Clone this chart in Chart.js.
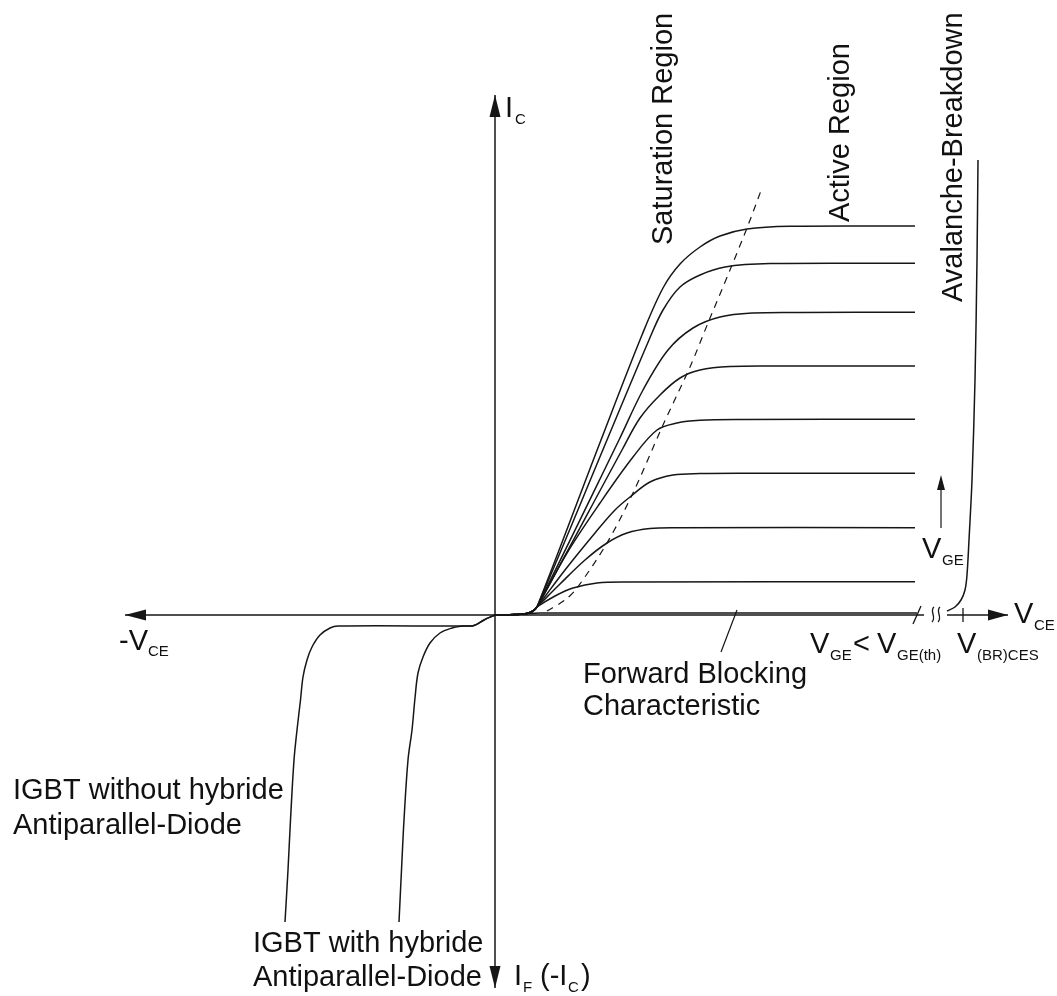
<!DOCTYPE html>
<html>
<head>
<meta charset="utf-8">
<title>IGBT output characteristic</title>
<script src="https://cdn.jsdelivr.net/npm/chart.js@4.4.1/dist/chart.umd.min.js"></script>
<style>
  html, body { margin: 0; padding: 0; background: #fff; }
  #wrap { width: 1057px; height: 996px; }
</style>
</head>
<body>
<div id="wrap"><canvas id="igbt" width="1057" height="996"></canvas></div>
<script>
// Schematic units: V_CE and I_C in arbitrary units, origin where the axes cross

// Output curves for rising V_GE (lowest index = highest V_GE)
const vce1 = [0, 2.0, 3.2, 3.8, 4.2, 10.6, 14.7, 16.8, 18.5, 20.5, 22.5, 25.2, 29.5, 42.0];
const ic1  = [0, 0.04, 0.14, 0.4, 0.8, 17.5, 28.0, 32.7, 35.1, 36.8, 37.9, 38.6, 38.87, 38.9];

const vce2 = [0, 2.0, 3.2, 3.8, 4.2, 11.2, 15.4, 16.8, 18.5, 20.5, 23.0, 27.5, 42.0];
const ic2  = [0, 0.04, 0.14, 0.4, 0.8, 17.5, 27.5, 30.5, 32.8, 34.0, 34.8, 35.14, 35.17];

const vce3 = [0, 2.0, 3.2, 3.8, 4.2, 12.4, 14.8, 17.3, 19.8, 22.5, 25.8, 30.5, 42.0];
const ic3  = [0, 0.04, 0.14, 0.4, 0.8, 17.5, 22.5, 26.5, 28.7, 29.8, 30.2, 30.26, 30.27];

const vce4 = [0, 2.0, 3.2, 3.8, 4.2, 12.7, 14.5, 16.5, 18.5, 20.5, 23.5, 28.5, 42.0];
const ic4  = [0, 0.04, 0.14, 0.4, 0.8, 16.5, 19.7, 22.0, 23.7, 24.5, 24.85, 24.9, 24.9];

const vce5 = [0, 2.0, 3.2, 3.8, 4.2, 7.2, 10.5, 13.8, 16.2, 18.2, 20.5, 24.5, 42.0];
const ic5  = [0, 0.04, 0.14, 0.4, 0.8, 6.2, 11.2, 15.8, 18.5, 19.2, 19.47, 19.55, 19.57];

const vce6 = [0, 2.0, 3.2, 3.8, 4.2, 7.0, 10.0, 12.0, 13.5, 15.5, 17.8, 20.5, 25.5, 42.0];
const ic6  = [0, 0.04, 0.14, 0.4, 0.8, 4.5, 8.2, 10.5, 11.8, 13.3, 14.0, 14.14, 14.17, 14.17];

const vce7 = [0, 2.0, 3.2, 3.8, 4.2, 6.5, 9.0, 11.2, 13.2, 15.5, 18.2, 42.0];
const ic7  = [0, 0.04, 0.14, 0.4, 0.8, 3.1, 5.5, 7.2, 8.2, 8.65, 8.73, 8.73];

const vce8 = [0, 2.0, 3.2, 3.8, 4.2, 6.0, 7.8, 10.2, 13.2, 42.0];
const ic8  = [0, 0.04, 0.14, 0.4, 0.8, 1.9, 2.7, 3.2, 3.3, 3.33];

// V_GE < V_GE(th): forward blocking
const vceBlock = [0, 2.0, 3.2, 4.5, 42.2];
const icBlock  = [0, 0.04, 0.14, 0.2, 0.2];

// boundary between saturation and active region
const vceBound = [5.2, 7.0, 8.2, 11.2, 13.8, 16.8, 19.5, 21.3, 23.5, 25.2, 26.7];
const icBound  = [0.4, 1.5, 2.7, 7.2, 12.2, 19.0, 24.8, 29.2, 34.5, 38.7, 42.7];

// avalanche breakdown at V_(BR)CES
const vceAval = [45.2, 46.0, 46.6, 47.0, 47.2, 47.4, 47.7, 48.0, 48.2, 48.3];
const icAval  = [0.4, 0.8, 1.5, 2.5, 4.0, 7.5, 13.5, 23.5, 35.5, 45.5];

// reverse direction
const vceNoDiode = [0, -1.1, -2.1, -3.0, -15.7, -16.5, -17.5, -18.3, -18.8, -19.2, -19.45, -19.8, -20.1, -20.45, -20.7, -21.0];
const icNoDiode  = [0, -0.5, -1.05, -1.1, -1.1, -1.3, -2.0, -3.2, -4.5, -6.2, -8.5, -11.5, -14.5, -20.5, -25.5, -30.7];

const vceDiode = [0, -1.1, -2.1, -3.0, -3.3, -4.3, -5.5, -6.5, -7.2, -7.7, -8.0, -8.3, -8.7, -9.1, -9.35, -9.6];
const icDiode  = [0, -0.5, -1.05, -1.1, -1.1, -1.3, -1.8, -2.8, -4.2, -5.8, -8.3, -11.5, -14.5, -20.5, -25.5, -30.7];

const INK = '#161616';
const FONT = '"Liberation Sans", Arial, Helvetica, sans-serif';

function pts(xs, ys) {
    return xs.map((v, i) => ({ x: v, y: ys[i] }));
}

function curve(xs, ys, extra) {
    return Object.assign({
        data: pts(xs, ys),
        showLine: true,
        borderColor: INK,
        borderWidth: 1.5,
        pointRadius: 0,
        tension: 0.35,
        fill: false
    }, extra || {});
}

const datasets = [
    curve(vce1, ic1), curve(vce2, ic2), curve(vce3, ic3), curve(vce4, ic4),
    curve(vce5, ic5), curve(vce6, ic6), curve(vce7, ic7), curve(vce8, ic8),
    curve(vceBlock, icBlock, { tension: 0.2 }),
    curve(vceBound, icBound, { borderWidth: 1.2, borderDash: [7, 6], tension: 0.3 }),
    curve(vceAval, icAval, { tension: 0.3 }),
    curve(vceNoDiode, icNoDiode, { tension: 0.35 }),
    curve(vceDiode, icDiode, { tension: 0.35 })
];

function arrowHead(ctx, x, y, dx, dy, len, half) {
    // tip at (x,y), pointing along (dx,dy)
    const bx = x - dx * len, by = y - dy * len;
    ctx.beginPath();
    ctx.moveTo(x, y);
    ctx.lineTo(bx - dy * half, by + dx * half);
    ctx.lineTo(bx + dy * half, by - dx * half);
    ctx.closePath();
    ctx.fill();
}

function line(ctx, x1, y1, x2, y2) {
    ctx.beginPath();
    ctx.moveTo(x1, y1);
    ctx.lineTo(x2, y2);
    ctx.stroke();
}

function text(ctx, s, x, y, size) {
    ctx.font = size + 'px ' + FONT;
    ctx.fillText(s, x, y);
}

const diagram = {
    id: 'diagram',
    afterDatasetsDraw(chart) {
        const ctx = chart.ctx;
        const xs = chart.scales.x, ys = chart.scales.y;
        const px = v => xs.getPixelForValue(v);
        const py = v => ys.getPixelForValue(v);
        const x0 = px(0), y0 = py(0);

        ctx.save();
        ctx.strokeStyle = INK;
        ctx.fillStyle = INK;
        ctx.lineWidth = 1.5;

        // axes
        line(ctx, px(-37), y0, px(42.9), y0);
        line(ctx, px(45.2), y0, px(51.3), y0);
        line(ctx, x0, py(52), x0, py(-37.3));
        arrowHead(ctx, px(-37), y0, -1, 0, 21, 5.5);
        arrowHead(ctx, px(51.3), y0, 1, 0, 20, 5.5);
        arrowHead(ctx, x0, py(52), 0, -1, 22, 5.5);
        arrowHead(ctx, x0, py(-37.3), 0, 1, 22, 5.5);

        // axis break: slash, squiggles, V_(BR)CES tick
        ctx.lineWidth = 1.3;
        const sx = px(42.2);
        line(ctx, sx - 4, y0 + 9, sx + 4, y0 - 9);
        [px(43.8), px(44.4)].forEach(qx => {
            ctx.beginPath();
            ctx.moveTo(qx + 1, y0 - 8);
            ctx.bezierCurveTo(qx - 4, y0 - 4, qx + 4, y0 + 2, qx - 1, y0 + 7);
            ctx.stroke();
        });
        line(ctx, px(46.8), y0 - 7, px(46.8), y0 + 7);

        // leader to forward blocking curve
        ctx.lineWidth = 1.2;
        line(ctx, px(22.6), py(-3.7), px(24.2), py(0.5));

        // V_GE arrow
        line(ctx, px(44.6), py(8.7), px(44.6), py(12.5));
        arrowHead(ctx, px(44.6), py(14.0), 0, -1, 15, 4);

        // labels
        ctx.fillStyle = '#111';
        ctx.textAlign = 'left';
        ctx.textBaseline = 'alphabetic';
        const big = 29, sub = 15;

        text(ctx, 'I', x0 + 10, py(49.8), big);
        text(ctx, 'C', x0 + 20, py(49.8) + 7, sub);

        text(ctx, '-V', px(-37.6), y0 + 35, big);
        text(ctx, 'CE', px(-37.6) + 29, y0 + 41, sub);

        text(ctx, 'V', px(51.9), y0 + 8, big);
        text(ctx, 'CE', px(51.9) + 20, y0 + 15, sub);

        text(ctx, 'V', 810, y0 + 38, big);
        text(ctx, 'GE', 830, y0 + 45, sub);
        text(ctx, '<', 853, y0 + 38, big);
        text(ctx, 'V', 877, y0 + 38, big);
        text(ctx, 'GE(th)', 897, y0 + 45, sub);
        text(ctx, 'V', 957, y0 + 38, big);
        text(ctx, '(BR)CES', 977, y0 + 45, sub);

        text(ctx, 'V', 922, 558, big);
        text(ctx, 'GE', 942, 565, sub);

        text(ctx, 'Forward Blocking', 583, 683, big);
        text(ctx, 'Characteristic', 583, 715, big);

        text(ctx, 'IGBT without hybride', 13, 799, big);
        text(ctx, 'Antiparallel-Diode', 13, 834, big);
        text(ctx, 'IGBT with hybride', 253, 952, big);
        text(ctx, 'Antiparallel-Diode', 253, 986, big);

        text(ctx, 'I', x0 + 19, 985, big);
        text(ctx, 'F', x0 + 28, 992, sub);
        text(ctx, '(-I', x0 + 45, 985, big);
        text(ctx, 'C', x0 + 73, 992, sub);
        text(ctx, ')', x0 + 86, 985, big);

        // rotated region labels
        [['Saturation Region', 672, 245], ['Active Region', 849, 222], ['Avalanche-Breakdown', 962, 302]]
            .forEach(([s, bx, by]) => {
                ctx.save();
                ctx.translate(bx, by);
                ctx.rotate(-Math.PI / 2);
                text(ctx, s, 0, 0, big);
                ctx.restore();
            });

        ctx.restore();
    }
};

new Chart(document.getElementById('igbt').getContext('2d'), {
    type: 'scatter',
    data: { datasets },
    options: {
        responsive: false,
        animation: false,
        layout: { padding: 0 },
        plugins: { legend: { display: false }, tooltip: { enabled: false } },
        scales: {
            x: { type: 'linear', min: -49.5, max: 56.2, display: false },
            y: { type: 'linear', min: -38.1, max: 61.5, display: false }
        }
    },
    plugins: [diagram]
});
</script>
</body>
</html>
